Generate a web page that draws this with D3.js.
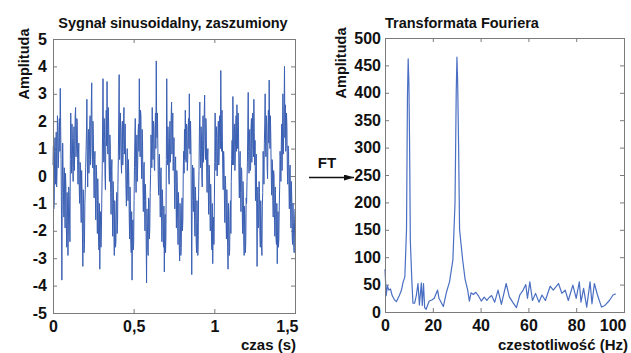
<!DOCTYPE html>
<html>
<head>
<meta charset="utf-8">
<script src="https://cdn.jsdelivr.net/npm/d3@7/dist/d3.min.js"></script>
<style>
  body { margin: 0; background: #fff; }
  svg text { font-family: "Liberation Sans", Arial, sans-serif; font-weight: bold; fill: #111; }
  .frame { fill: none; stroke: #7a7a7a; stroke-width: 1; }
  .axis path { display: none; }
  .axis line { stroke: #7a7a7a; }
</style>
</head>
<body>
<script>
const signalStep = 0.0025;
const signalValues = [
  0.4, 1.1, -1.2, -0.9, 0.9, 1.4, -0.3, 0.5, 1.6, -0.4, 0.2, 2.2, 1.9, 0.3, 0.8, 1.7, 2.1, 0.9, 3.2, 1.8, 0.6, -1.4, -3.8, -0.7, 1.2, 0.2, -0.6, -1.5, 0.3, -0.8, -1.9, 0.1, -0.4, -1.7, -2.6, -0.6, -1.1, -2.9, -2.2, -0.4,
  -0.7, -1.5, -2.4, 0.6, 2.3, 0.9, 0.1, 1.9, 1.4, 0.3, -0.2, 1.1, 1.8, 0.2, 0.9, 2.2, 2.5, 0.7, 1.1, 2.1, 2.0, 0.6, -0.3, 0.8, 1.2, -0.4, -1.0, 0.5, 0.4, -1.1, -1.7, 0.2, -0.6, -2.1, -3.3, -0.5, -1.2, -2.8, -2.5, -1.0,
  -0.5, 0.3, 0.9, 1.6, 2.8, 0.8, -0.4, 1.2, 1.7, 0.1, 0.6, 1.8, 2.2, 0.4, 1.0, 2.6, 3.4, 1.2, 0.3, 2.0, 1.5, 0.2, -0.8, 0.6, 0.9, -0.7, -1.6, 0.4, 0.2, -1.2, -2.1, -0.1, -0.9, -2.3, -2.7, -1.0, -3.4, -2.0, -1.3, -2.6,
  -2.0, -0.8, 0.2, 1.9, 3.55, 1.4, 0.5, 2.1, 1.3, 0.0, -0.5, 1.6, 2.4, 1.1, 3.45, 1.7, 0.8, 2.5, 1.9, 0.4, -0.2, 1.5, 1.1, -0.6, -1.4, 0.2, 0.6, -1.0, -2.2, -0.2, -0.7, -2.0, -2.9, -0.9, -1.5, -2.6, -2.4, -1.1, -0.6, -2.1,
  -1.8, -0.3, 0.7, 2.2, 3.7, 0.6, 1.2, 2.3, 1.6, 0.5, 0.1, 1.7, 2.0, 0.4, 0.9, 2.1, 2.5, 0.8, 1.3, 1.9, 0.4, -0.5, -1.1, 0.3, 1.0, -0.3, -0.9, 0.6, -0.1, -1.5, -2.3, -0.4, -1.2, -2.5, -2.8, -1.3, -3.8, -2.2, -1.6, -2.7,
  -2.5, -0.9, 0.3, 1.4, 2.1, 0.2, -0.6, 0.8, 1.5, -0.2, 0.4, 1.6, 1.9, 0.9, 3.55, 1.5, 0.7, 2.4, 2.2, 0.6, -0.1, 1.7, 1.3, -0.4, -1.3, 0.3, 0.5, -0.9, -2.0, -0.3, -0.8, -2.4, -3.9, -1.2, -1.7, -2.7, -2.9, -0.8, -0.9, -2.3,
  -1.9, -0.6, 0.1, 1.5, 1.1, 0.3, 2.5, 1.2, 0.6, 2.0, 1.8, 0.3, 0.2, 1.6, 2.3, 1.0, 4.2, 2.0, 1.4, 2.3, 1.0, -0.2, -0.7, 0.7, 0.8, -0.6, -1.5, 0.1, 0.3, -1.3, -2.4, -0.5, -1.0, -2.2, -2.6, -1.1, -3.5, -1.9, -1.4, -2.8,
  -2.2, 0.6, 3.55, 1.3, 0.4, 1.8, 1.2, -0.1, -0.3, 1.4, 2.0, 0.5, 0.9, 2.2, 2.7, 0.8, 1.5, 2.3, 0.2, 0.9, 1.4, -0.3, -1.2, 0.4, 0.7, -0.8, -1.9, 0.2, -0.2, -1.6, -2.5, -0.6, -1.1, -2.6, -3.1, -1.0, -1.8, -2.9, -2.6, -1.2,
  -0.8, -2.0, -1.6, 0.2, 0.9, 0.1, 1.7, 0.6, 2.4, 1.3, 0.5, 1.9, 1.8, 0.2, 0.6, 1.7, 2.1, 1.0, 3.0, 1.6, 0.8, 2.0, 1.1, -1.2, -3.6, -0.9, 0.4, -0.7, -1.3, 0.3, -0.2, -1.6, -2.2, -0.4, -0.9, -2.4, -2.8, -0.9, -1.7, -2.9,
  -2.4, -0.7, 0.2, 1.6, 2.7, 1.0, 0.3, 1.8, 1.5, 0.0, -0.4, 1.3, 2.2, 0.5, 1.1, 2.4, 2.95, 1.2, 0.6, 2.1, 1.7, 0.3, -0.6, 0.7, 1.0, -0.5, -1.4, 0.4, 0.1, -1.1, -2.0, -0.3, -1.0, -2.3, -2.7, -1.0, -3.2, -2.1, -1.5, -2.5,
  -1.1, 0.5, 2.3, 0.9, 0.2, 1.8, 1.4, 0.0, 0.5, 1.7, 2.0, 0.4, 0.8, 2.2, 1.6, 1.0, 3.85, 1.9, 0.9, 2.4, 1.3, 0.1, -0.5, 0.9, 0.6, -0.8, -1.7, 0.0, -0.3, -1.5, -2.3, -0.5, -1.2, -2.6, -3.4, -1.0, -1.9, -2.9, -2.7, -1.3,
  -0.9, -2.1, -0.2, 0.6, 1.3, 0.4, 2.9, 1.5, 0.4, 1.6, 1.9, 0.2, 0.7, 1.8, 2.2, 0.9, 2.6, 1.8, 1.0, 2.3, 1.6, 0.0, -0.8, 0.5, 0.9, -0.6, -1.3, 0.3, 0.2, -1.0, -2.1, -0.2, -0.7, -2.4, -2.9, -1.1, -1.6, -2.8, -2.4, -0.8,
  -1.0, -0.2, 0.5, 1.8, 3.05, 0.9, 0.1, 1.4, 1.7, 0.2, 0.3, 1.8, 2.1, 0.5, 1.2, 2.3, 1.5, 0.7, 2.8, 1.6, 0.4, 1.3, -0.9, -0.2, 0.8, -1.1, -3.3, -1.0, -0.4, -1.9, -1.8, -0.2, -0.6, -2.1, -2.6, -0.9, -1.4, -2.5, -2.9, -1.1,
  -0.6, 0.9, 0.4, -0.3, 1.2, 1.9, 3.0, 1.1, 0.7, 2.2, 1.9, 0.3, -0.1, 1.5, 2.4, 1.2, 3.5, 1.9, 1.0, 2.2, 1.4, 0.2, -0.7, 0.6, 0.5, -0.9, -1.5, 0.2, 0.0, -1.4, -2.2, -0.4, -1.1, -2.3, -2.5, -1.0, -3.2, -2.0, -1.3, -2.6,
  -2.3, -1.1, -0.4, 0.9, 0.6, -0.2, 1.1, 1.9, 0.2, 1.4, 3.0, 0.8, 1.5, 2.6, 4.0, 1.4, 2.6, 0.9, 1.2, 2.3, 1.8, 0.2, -0.3, 1.1, 0.9, -0.4, -1.2, 0.3, 0.4, -1.0, -1.9, -0.2, -0.8, -2.2, -2.5, -1.0, -1.7, -2.6, -2.8, -1.6,
  -1.2
];

// spectrum: frequency (Hz) and amplitude
const fftFreq = [
  0, 0.5, 1.0, 1.6, 2.3, 3.0, 4.0, 4.8, 6.0, 6.9, 7.6, 8.3, 9.0, 9.4, 9.7, 10.0, 10.3, 10.6, 11.2, 11.7,
  12.4, 13.1, 13.8, 14.4, 15.2, 15.6, 16.1, 16.6, 17.2, 18.5, 19.6, 20.6, 22.0, 22.6, 24.4, 25.7, 27.0, 28.4, 29.3, 29.8,
  30.1, 30.4, 30.8, 31.2, 32.5, 33.5, 34.6, 35.3, 36.0, 37.0, 38.0, 39.0, 40.3, 41.5, 42.6, 43.5, 44.6, 45.9, 47.3, 48.7,
  50.7, 52.0, 53.4, 55.0, 56.4, 57.8, 58.9, 59.6, 60.6, 61.7, 63.0, 64.4, 65.7, 67.1, 69.1, 70.4, 72.6, 74.0, 75.4, 76.7,
  78.6, 80.0, 81.3, 82.0, 83.1, 84.4, 85.8, 86.6, 87.6, 88.9, 90.6, 92.0, 93.9, 95.4, 96.5
];
const fftAmp = [
  78, 30, 48, 40, 42, 30, 22, 19, 30, 40, 55, 64, 150, 395, 462, 418, 300, 130, 60, 16,
  16, 30, 52, 13, 53, 12, 52, 8, 5, 20, 22, 25, 40, 25, 10, 36, 55, 95, 200, 400,
  465, 420, 300, 150, 95, 60, 40, 20, 35, 32, 36, 30, 20, 27, 21, 26, 30, 18, 40, 14,
  52, 28, 18, 8, 31, 40, 50, 25, 55, 21, 34, 18, 31, 21, 47, 40, 52, 34, 40, 21,
  49, 25, 55, 18, 43, 9, 55, 15, 52, 31, 9, 12, 21, 31, 33
];

const leftXTicks = [0, 0.5, 1, 1.5];
const leftYTicks = [-5, -4, -3, -2, -1, 0, 1, 2, 3, 4, 5];
const rightXTicks = [0, 20, 40, 60, 80, 100];
const rightYTicks = [0, 50, 100, 150, 200, 250, 300, 350, 400, 450, 500];

const W = 631, H = 353;
const svg = d3.select("body").append("svg").attr("width", W).attr("height", H);

// draws one boxed panel (MATLAB style, ticks inside on all four sides)
function panel(x, y, opt) {
  const [x0, x1] = x.range(), [y0, y1] = y.range();
  const fmt = opt.fmt || (d => String(d));

  const bx = svg.append("g").attr("class", "axis").attr("transform", "translate(0," + y0 + ")")
    .call(d3.axisBottom(x).tickValues(opt.xTicks).tickSize(-4).tickSizeOuter(0).tickPadding(8).tickFormat(fmt));
  bx.selectAll("text").style("font-size", "16px");
  // last x label sits flush with the right border
  bx.selectAll("text").filter((d, i, n) => i === n.length - 1)
    .attr("text-anchor", "end").attr("dx", opt.lastDx);

  svg.append("g").attr("class", "axis").attr("transform", "translate(0," + y1 + ")")
    .call(d3.axisTop(x).tickValues(opt.xTicks).tickSize(-4).tickSizeOuter(0).tickFormat(""));

  svg.append("g").attr("class", "axis").attr("transform", "translate(" + x0 + ",0)")
    .call(d3.axisLeft(y).tickValues(opt.yTicks).tickSize(-4).tickSizeOuter(0).tickPadding(opt.yPad).tickFormat(d => String(d)))
    .selectAll("text").style("font-size", "16px");

  svg.append("g").attr("class", "axis").attr("transform", "translate(" + x1 + ",0)")
    .call(d3.axisRight(y).tickValues(opt.yTicks).tickSize(-4).tickSizeOuter(0).tickFormat(""));

  svg.append("path")
    .attr("d", opt.line)
    .attr("fill", "none")
    .attr("stroke", opt.color)
    .attr("stroke-width", opt.width)
    .attr("stroke-linejoin", "round");

  svg.append("rect").attr("class", "frame")
    .attr("x", x0 + 0.5).attr("y", y1 + 0.5)
    .attr("width", x1 - x0).attr("height", y0 - y1);
}

// left panel: time signal
const xT = d3.scaleLinear().domain([0, 1.5]).range([53, 295]);
const yS = d3.scaleLinear().domain([-5, 5]).range([313, 39]);
const sigLine = d3.line().x((d, i) => xT(i * signalStep)).y(d => yS(d));
panel(xT, yS, {
  xTicks: leftXTicks, yTicks: leftYTicks, yPad: 6, lastDx: 3,
  fmt: d => String(d).replace(".", ","),
  line: sigLine(signalValues), color: "#3a5fb3", width: 1
});

// right panel: spectrum
const xF = d3.scaleLinear().domain([0, 100]).range([385, 624]);
const yF = d3.scaleLinear().domain([0, 500]).range([312, 38]);
const fftLine = d3.line().x(d => xF(d[0])).y(d => yF(d[1]));
panel(xF, yF, {
  xTicks: rightXTicks, yTicks: rightYTicks, yPad: 4, lastDx: 2,
  line: fftLine(d3.zip(fftFreq, fftAmp)), color: "#4a6fc2", width: 1.2
});

// titles and axis labels
svg.append("text").attr("x", 173).attr("y", 28).attr("text-anchor", "middle")
  .style("font-size", "14.5px").text("Sygnał sinusoidalny, zaszumiony");
svg.append("text").attr("x", 385).attr("y", 28)
  .style("font-size", "14.5px").text("Transformata Fouriera");

svg.append("text").attr("transform", "translate(29,64) rotate(-90)").attr("text-anchor", "middle")
  .style("font-size", "14.5px").text("Amplituda");
svg.append("text").attr("transform", "translate(346,63) rotate(-90)").attr("text-anchor", "middle")
  .style("font-size", "14.5px").text("Amplituda");

svg.append("text").attr("x", 296).attr("y", 350).attr("text-anchor", "end")
  .style("font-size", "15px").text("czas (s)");
svg.append("text").attr("x", 628).attr("y", 350).attr("text-anchor", "end")
  .style("font-size", "15px").text("czestotliwość (Hz)");

// FT arrow between the panels
svg.append("defs").append("marker")
  .attr("id", "head").attr("viewBox", "0 0 10 6").attr("refX", 10).attr("refY", 3)
  .attr("markerWidth", 10).attr("markerHeight", 6).attr("markerUnits", "userSpaceOnUse").attr("orient", "auto")
  .append("path").attr("d", "M0,0 L10,3 L0,6 Z").attr("fill", "#111");
svg.append("line").attr("x1", 309).attr("y1", 177.5).attr("x2", 354).attr("y2", 177.5)
  .attr("stroke", "#111").attr("stroke-width", 1.5).attr("marker-end", "url(#head)");
svg.append("text").attr("x", 327).attr("y", 168).attr("text-anchor", "middle")
  .style("font-size", "15px").text("FT");
</script>
</body>
</html>
